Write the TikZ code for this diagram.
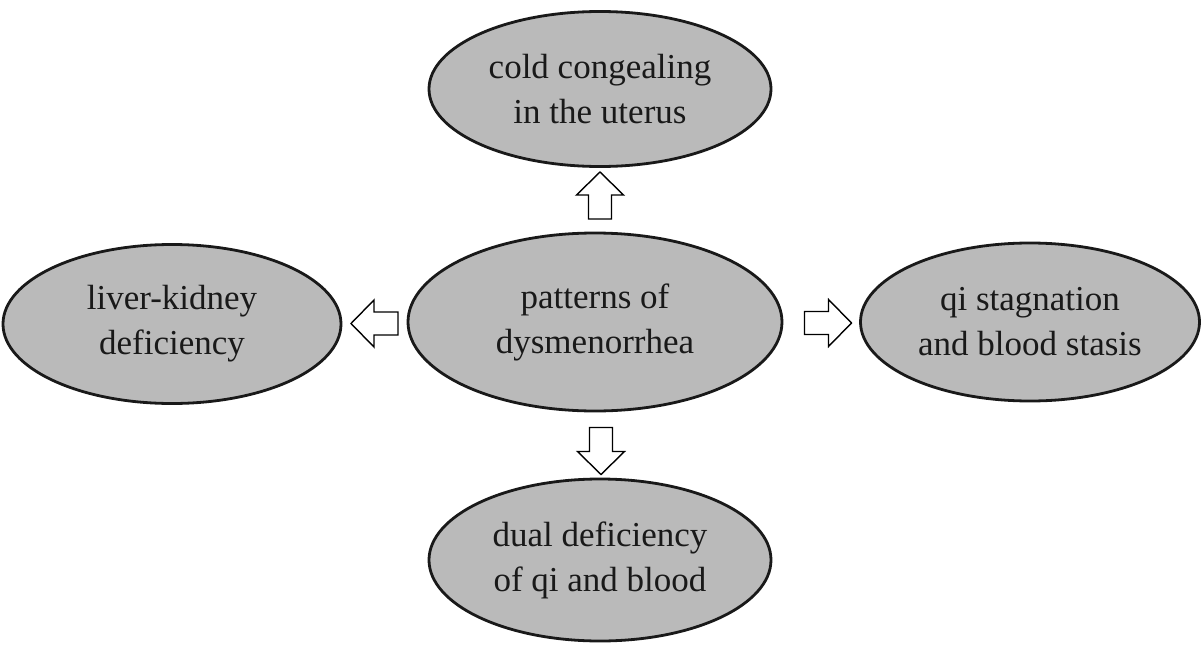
\documentclass[tikz,border=0pt]{standalone}
\usepackage{fontspec}
\setmainfont{Liberation Serif}
\usetikzlibrary{shapes.geometric}
\begin{document}
\begin{tikzpicture}[x=1pt,y=-1pt,
  oval/.style={ellipse, draw=black!90, line width=2.8pt, fill=black!27, inner sep=0pt,
    align=center, text=black!90, font=\fontsize{35}{45}\selectfont},
  blockline/.style={draw=black, line width=1.4pt, fill=white, line join=miter},
  blockarr/.pic={\draw[blockline] (-23.5,-11.5) -- (0.5,-11.5) -- (0.5,-23.5) -- (23.5,0)
      -- (0.5,23.5) -- (0.5,11.5) -- (-23.5,11.5) -- cycle;}]
\useasboundingbox (0,0) rectangle (1203,645);
\node[oval, minimum width=342pt, minimum height=155pt] (top) at (600,89) {cold congealing\\in the uterus};
\node[oval, minimum width=374pt, minimum height=178pt] (center) at (595,322) {patterns of\\dysmenorrhea};
\node[oval, minimum width=338pt, minimum height=159pt] (left) at (172,324) {liver-kidney\\deficiency};
\node[oval, minimum width=339pt, minimum height=158pt] (right) at (1030,322) {qi stagnation\\and blood stasis};
\node[oval, minimum width=342pt, minimum height=162pt] (bottom) at (600,560) {dual deficiency\\of qi and blood};
\pic[rotate=90] (aup) at (600,195.5) {blockarr};
\pic[rotate=180] (aleft) at (374.5,323.5) {blockarr};
\pic[rotate=0] (aright) at (828,323) {blockarr};
\pic[rotate=-90] (adown) at (601,451) {blockarr};
\end{tikzpicture}
\end{document}
